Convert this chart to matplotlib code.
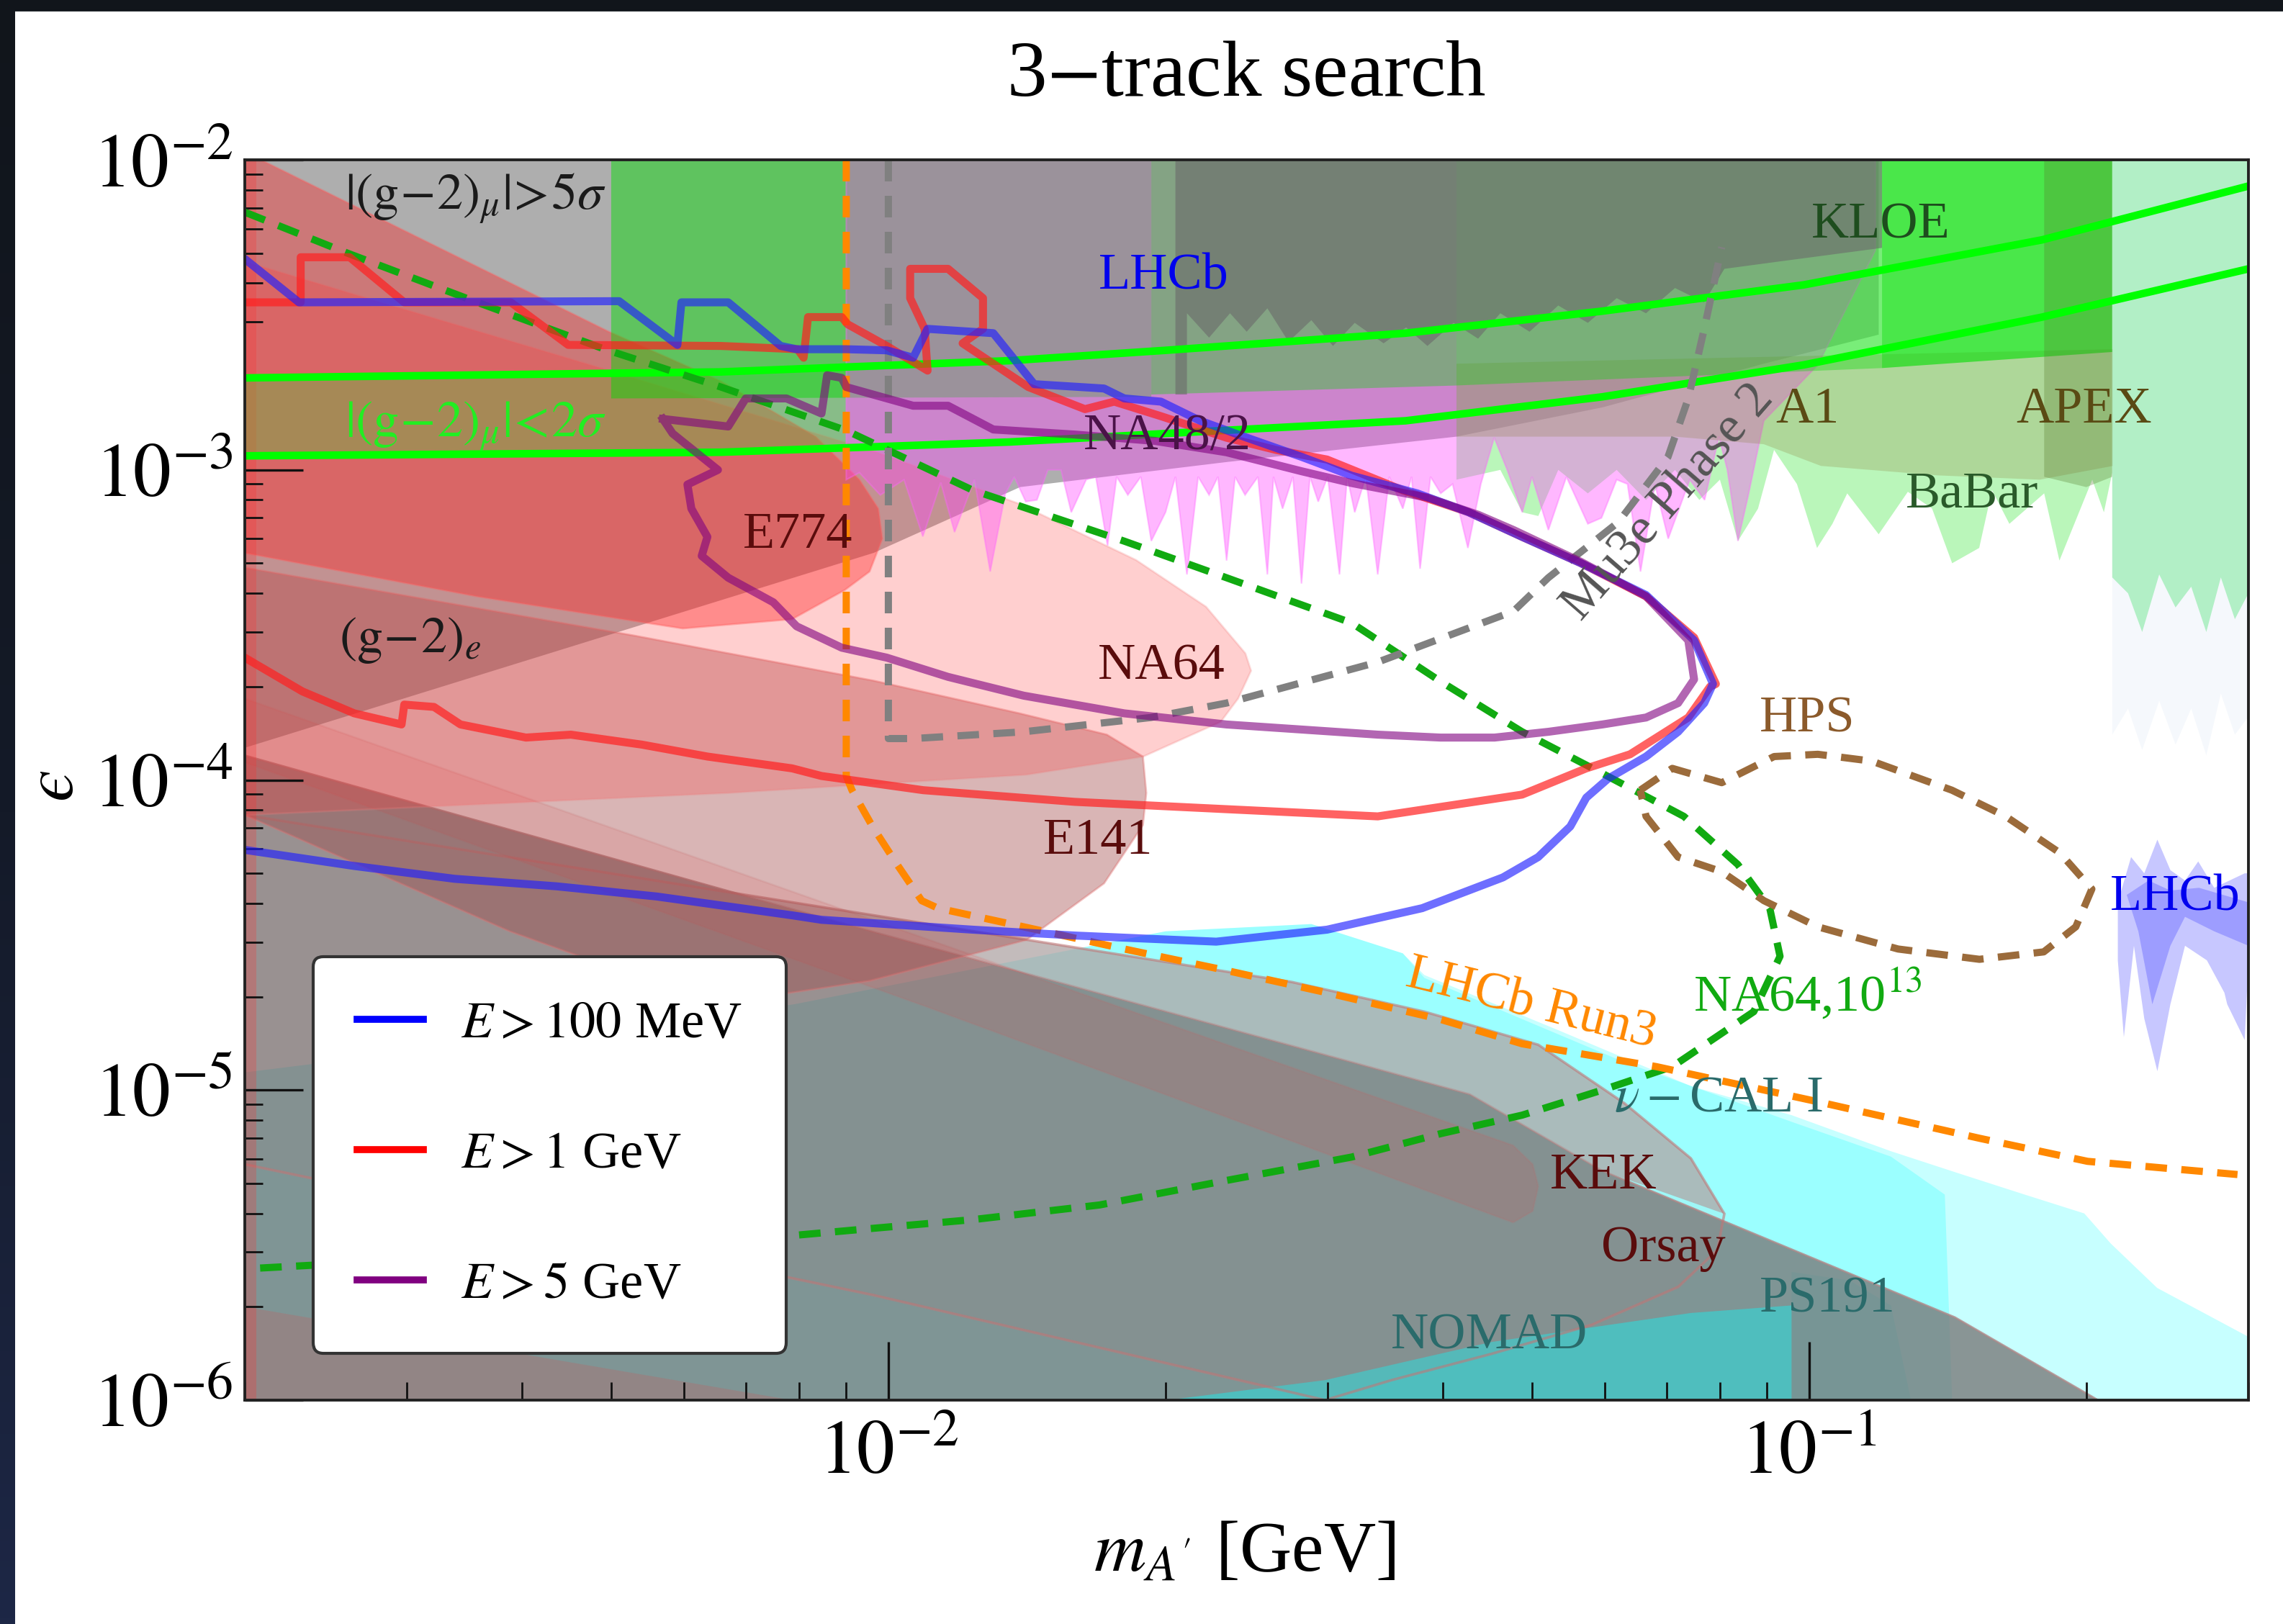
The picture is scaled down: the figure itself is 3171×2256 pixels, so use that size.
import numpy as np
import matplotlib
matplotlib.use("Agg")
import matplotlib.pyplot as plt
from matplotlib.lines import Line2D
from matplotlib.patches import Rectangle
from matplotlib.colors import LinearSegmentedColormap
from matplotlib.ticker import LogLocator, FuncFormatter, NullFormatter

plt.rcParams['font.family'] = ['Liberation Serif', 'DejaVu Serif']
plt.rcParams['mathtext.fontset'] = 'stix'

# ---------------- axis range ----------------
M_MIN, M_MAX = 2e-3, 0.3
EPS_BOT, EPS_TOP = 1e-6, 1e-2

# ---------------- 3-track reach contours ----------------
blue_m = [0.002, 0.00229, 0.0051, 0.0059, 0.00596, 0.0067, 0.00764, 0.00795, 0.0090, 0.00996, 0.01064, 0.01103,
          0.0130, 0.0144, 0.01715, 0.01804, 0.01977, 0.02181, 0.02451, 0.02814, 0.03185, 0.03753, 0.04264, 0.04879,
          0.05645, 0.06651, 0.0750, 0.07863, 0.07693, 0.07206, 0.06651, 0.06049, 0.05728, 0.05503, 0.05078, 0.0465,
          0.0380, 0.02995, 0.0227, 0.01594, 0.01235, 0.00846, 0.00786, 0.0056, 0.00436, 0.00338, 0.00263, 0.002]
blue_eps = [4.79e-3, 3.47e-3, 3.50e-3, 2.53e-3, 3.47e-3, 3.47e-3, 2.51e-3, 2.45e-3, 2.45e-3, 2.43e-3, 2.30e-3, 2.85e-3,
            2.76e-3, 1.89e-3, 1.83e-3, 1.70e-3, 1.66e-3, 1.44e-3, 1.27e-3, 1.10e-3, 9.58e-4, 8.40e-4, 7.31e-4, 6.08e-4,
            5.01e-4, 3.95e-4, 2.82e-4, 2.04e-4, 1.77e-4, 1.43e-4, 1.19e-4, 1.01e-4, 8.77e-5, 7.08e-5, 5.64e-5, 4.85e-5,
            3.86e-5, 3.29e-5, 3.01e-5, 3.15e-5, 3.29e-5, 3.54e-5, 3.66e-5, 4.21e-5, 4.54e-5, 4.80e-5, 5.28e-5, 5.95e-5]

red_m = [0.002, 0.0023, 0.0023, 0.0026, 0.00298, 0.00389, 0.00449, 0.00658, 0.00797, 0.00809, 0.00818, 0.0089,
         0.00903, 0.00996, 0.01103, 0.01095, 0.01056, 0.01056, 0.01161, 0.01267, 0.01267, 0.01204, 0.01419, 0.01635,
         0.01759, 0.01977, 0.02329, 0.02636, 0.02995, 0.03619, 0.04264, 0.04879, 0.05645, 0.06651, 0.0750, 0.0792,
         0.07806, 0.07392, 0.0639, 0.05728, 0.04879, 0.034, 0.02329, 0.01594, 0.01091, 0.00846, 0.00786, 0.00636,
         0.0054, 0.00452, 0.00404, 0.00343, 0.00321, 0.00298, 0.00296, 0.00263, 0.00231, 0.002]
red_eps = [3.47e-3, 3.47e-3, 4.85e-3, 4.85e-3, 3.47e-3, 3.47e-3, 2.53e-3, 2.51e-3, 2.45e-3, 2.30e-3, 3.11e-3, 3.11e-3,
           2.95e-3, 2.51e-3, 2.09e-3, 2.85e-3, 3.58e-3, 4.45e-3, 4.45e-3, 3.58e-3, 2.85e-3, 2.56e-3, 1.85e-3, 1.57e-3,
           1.66e-3, 1.49e-3, 1.27e-3, 1.16e-3, 1.08e-3, 8.60e-4, 7.31e-4, 6.08e-4, 5.01e-4, 3.91e-4, 2.88e-4, 2.04e-4,
           2.00e-4, 1.59e-4, 1.21e-4, 1.09e-4, 8.97e-5, 7.63e-5, 8.05e-5, 8.50e-5, 9.27e-5, 1.03e-4, 1.09e-4, 1.19e-4,
           1.30e-4, 1.40e-4, 1.37e-4, 1.51e-4, 1.72e-4, 1.75e-4, 1.51e-4, 1.64e-4, 1.93e-4, 2.48e-4]

purple_m = [0.00569, 0.0067, 0.0070, 0.00775, 0.00846, 0.00858, 0.0089, 0.0090, 0.01064, 0.01161, 0.0130, 0.01594,
            0.01948, 0.02329, 0.02814, 0.03185, 0.03849, 0.04374, 0.04774, 0.05645, 0.06651, 0.07392, 0.0750, 0.07206,
            0.06651, 0.05962, 0.05209, 0.04553, 0.03977, 0.03401, 0.02329, 0.01804, 0.01403, 0.01161, 0.00996, 0.0089,
            0.00795, 0.0075, 0.0067, 0.00627, 0.00636, 0.00611, 0.00605, 0.00653, 0.00583, 0.00569]
purple_eps = [1.46e-3, 1.38e-3, 1.70e-3, 1.70e-3, 1.52e-3, 2.02e-3, 1.98e-3, 1.85e-3, 1.61e-3, 1.61e-3, 1.35e-3, 1.30e-3,
              1.24e-3, 1.14e-3, 9.89e-4, 9.07e-4, 8.14e-4, 7.16e-4, 6.40e-4, 5.06e-4, 3.91e-4, 2.82e-4, 2.11e-4, 1.77e-4,
              1.59e-4, 1.51e-4, 1.43e-4, 1.37e-4, 1.37e-4, 1.40e-4, 1.51e-4, 1.64e-4, 1.87e-4, 2.15e-4, 2.48e-4, 2.67e-4,
              3.13e-4, 3.74e-4, 4.49e-4, 5.28e-4, 6.08e-4, 7.5e-4, 8.97e-4, 1.0e-3, 1.31e-3, 1.46e-3]

# ---------------- projections (dashed) ----------------
na64f_m = [0.002, 0.00259, 0.00355, 0.00492, 0.00658, 0.009, 0.01235, 0.01804, 0.02329, 0.03185, 0.03977, 0.04879,
           0.05962, 0.07311, 0.08366, 0.09062, 0.09298, 0.08708, 0.07102, 0.05962, 0.04879, 0.03977, 0.03185, 0.02329,
           0.01696, 0.01235, 0.00961, 0.00783, 0.00388, 0.002]
na64f_eps = [6.78e-3, 4.99e-3, 3.50e-3, 2.45e-3, 1.85e-3, 1.34e-3, 8.60e-4, 5.89e-4, 4.49e-4, 3.21e-4, 2.08e-4, 1.43e-4,
             1.05e-4, 7.63e-5, 5.34e-5, 3.86e-5, 2.70e-5, 1.79e-5, 1.19e-5, 1.0e-5, 8.3e-6, 7.23e-6, 6.08e-6, 5.11e-6,
             4.26e-6, 3.82e-6, 3.58e-6, 3.39e-6, 2.95e-6, 2.65e-6]

run3_m = [0.009, 0.009, 0.00913, 0.00961, 0.01022, 0.01087, 0.01132, 0.01403, 0.01804, 0.02329, 0.02995, 0.03977,
          0.04879, 0.06823, 0.1022, 0.1531, 0.2006, 0.2919]
run3_eps = [1e-2, 1.03e-4, 9.27e-5, 7.08e-5, 5.34e-5, 4.08e-5, 3.86e-5, 3.36e-5, 2.85e-5, 2.43e-5, 2.06e-5, 1.69e-5,
            1.41e-5, 1.19e-5, 9.17e-6, 6.99e-6, 5.89e-6, 5.34e-6]

mu3e_m = [0.01, 0.01, 0.01064, 0.01403, 0.01927, 0.02329, 0.03401, 0.04774, 0.05209, 0.06205, 0.07025, 0.07392,
          0.07693, 0.08037]
mu3e_eps = [1e-2, 1.36e-4, 1.36e-4, 1.43e-4, 1.59e-4, 1.77e-4, 2.40e-4, 3.50e-4, 4.49e-4, 6.78e-4, 1.10e-3, 1.70e-3,
            2.85e-3, 5.23e-3]

hps_m = [0.06555, 0.07102, 0.08037, 0.09162, 0.1022, 0.117, 0.1429, 0.1635, 0.1872, 0.2028, 0.1948, 0.1798, 0.1531,
         0.1249, 0.1022, 0.08931, 0.08037, 0.07206, 0.06651, 0.06555]
hps_eps = [9.27e-5, 1.09e-4, 9.8e-5, 1.19e-4, 1.21e-4, 1.15e-4, 9.27e-5, 7.63e-5, 5.82e-5, 4.45e-5, 3.36e-5, 2.79e-5,
           2.64e-5, 2.85e-5, 3.36e-5, 4.08e-5, 5.06e-5, 5.64e-5, 7.63e-5, 9.27e-5]

# (g-2)_mu 2 sigma band
g2_m = [0.002, 0.00658, 0.01353, 0.02, 0.03645, 0.0596, 0.0986, 0.1791, 0.3]
g2up_eps = [1.98e-3, 2.07e-3, 2.25e-3, 2.43e-3, 2.76e-3, 3.25e-3, 3.95e-3, 5.52e-3, 8.23e-3]
g2lo_eps = [1.11e-3, 1.14e-3, 1.23e-3, 1.31e-3, 1.44e-3, 1.72e-3, 2.18e-3, 3.11e-3, 4.45e-3]
g2band_m = [0.002, 0.00658, 0.009]
g2band_up = [1.98e-3, 2.07e-3, 2.14e-3]
g2band_lo = [1.11e-3, 1.14e-3, 1.17e-3]

# ---------------- existing constraints (filled) ----------------
gtop_m = [0.002, 0.00964, 0.0139, 0.0233, 0.0414, 0.0596, 0.0893, 0.119]
gtop_eps = [1.27e-4, 5.4e-4, 8.8e-4, 1.06e-3, 1.28e-3, 1.59e-3, 2.2e-3, 2.73e-3]

e137_m = [0.002, 0.0096, 0.0428, 0.0596, 0.144, 0.206]
e137_eps = [1.2e-4, 3.25e-5, 9.7e-6, 5.5e-6, 1.85e-6, 1.0e-6]

cyan_light_m = [0.002, 0.0079, 0.02, 0.0288, 0.0362, 0.0382, 0.0534, 0.0744, 0.0957, 0.1227, 0.145, 0.1715, 0.199,
                0.2126, 0.2388, 0.3, 0.3, 0.002]
cyan_light_eps = [1.14e-5, 1.89e-5, 3.25e-5, 3.43e-5, 2.76e-5, 2.35e-5, 1.56e-5, 1.03e-5, 8.3e-6, 6.35e-6, 5.4e-6,
                  4.6e-6, 4.0e-6, 3.2e-6, 2.3e-6, 1.6e-6, 1e-6, 1e-6]
nucal_m = [0.002, 0.0079, 0.02, 0.0288, 0.0362, 0.0382, 0.063, 0.0957, 0.1227, 0.1404, 0.143, 0.002]
nucal_eps = [1.14e-5, 1.89e-5, 3.25e-5, 3.43e-5, 2.76e-5, 2.3e-5, 1.23e-5, 7.9e-6, 6.1e-6, 4.6e-6, 1e-6, 1e-6]
nomad_m = [0.0201, 0.0298, 0.0452, 0.0744, 0.0957, 0.0957]
nomad_eps = [1e-6, 1.16e-6, 1.54e-6, 1.91e-6, 2.02e-6, 1e-6]
ps191_m = [0.0957, 0.0957, 0.1107, 0.1227, 0.129]
ps191_eps = [1e-6, 2.59e-6, 2.43e-6, 2.02e-6, 1e-6]

e774_m = [0.002, 0.00497, 0.00658, 0.00834, 0.0093, 0.00975, 0.00985, 0.00954, 0.00897, 0.00786, 0.00598, 0.00359, 0.002]
e774_eps = [1.06e-2, 2.79e-3, 1.93e-3, 1.28e-3, 9.3e-4, 7.5e-4, 6.0e-4, 4.7e-4, 4.1e-4, 3.3e-4, 3.08e-4, 3.9e-4, 5.4e-4]
na64_m = [0.002, 0.00497, 0.00964, 0.01383, 0.01858, 0.02213, 0.02442, 0.02477, 0.02398, 0.02296, 0.01892, 0.01413,
          0.0067, 0.002]
na64_eps = [4.69e-3, 2.09e-3, 1.15e-3, 7.8e-4, 5.12e-4, 3.62e-4, 2.56e-4, 2.25e-4, 1.83e-4, 1.54e-4, 1.19e-4, 1.04e-4,
            9.08e-5, 7.71e-5]
e141_m = [0.002, 0.0053, 0.00964, 0.01388, 0.01727, 0.0189, 0.01906, 0.0189, 0.01715, 0.01413, 0.00954, 0.00646,
          0.00388, 0.002]
e141_eps = [4.84e-4, 2.92e-4, 2.09e-4, 1.64e-4, 1.40e-4, 1.19e-4, 9.08e-5, 7.15e-5, 4.64e-5, 3.05e-5, 2.25e-5, 1.89e-5,
            3.25e-5, 7.71e-5]
kek_m = [0.002, 0.01804, 0.0477, 0.0501, 0.0508, 0.0501, 0.0477, 0.01115, 0.002]
kek_eps = [1.83e-4, 1.83e-5, 6.63e-6, 5.76e-6, 4.9e-6, 4.07e-6, 3.74e-6, 1.83e-5, 1.14e-4]
orsay_m = [0.002, 0.02744, 0.0382, 0.0508, 0.063, 0.0744, 0.0809, 0.0795, 0.0721, 0.0581, 0.0452, 0.0352, 0.0298,
           0.00964, 0.002]
orsay_eps = [7.71e-5, 2.23e-5, 1.79e-5, 1.40e-5, 9.07e-6, 6.02e-6, 3.99e-6, 3.05e-6, 2.32e-6, 1.75e-6, 1.41e-6,
             1.16e-6, 1.0e-6, 2.18e-6, 5.76e-6]
# part of the Orsay region lying above the large grey region
orsay_up_m = [0.00687, 0.02744, 0.0382, 0.0508, 0.063, 0.0744, 0.0809, 0.0596, 0.0428, 0.0096]
orsay_up_eps = [4.3e-5, 2.23e-5, 1.79e-5, 1.40e-5, 9.07e-6, 6.02e-6, 3.99e-6, 5.5e-6, 9.7e-6, 3.25e-5]
redlow_m = [0.002, 0.00786, 0.002]
redlow_eps = [2.0e-6, 1e-6, 1e-6]
strip_m = [0.002, 0.00206, 0.00206, 0.002]
strip_eps = [1e-6, 1e-6, 1e-2, 1e-2]

block_m = [0.005, 0.0193, 0.0193, 0.005]
block_eps = [1e-2, 1e-2, 1.72e-3, 1.7e-3]
kloeL_m = [0.0193, 0.0193, 0.0411, 0.12, 0.12]
kloeL_eps = [1e-2, 1.75e-3, 1.87e-3, 2.13e-3, 1e-2]
kloeR_m = [0.12, 0.12, 0.2134, 0.2134]
kloeR_eps = [1e-2, 2.13e-3, 2.40e-3, 1e-2]
lhcb_top_m = [0.0205, 0.0205, 0.0211, 0.0211, 0.0223, 0.0235, 0.0245, 0.0258, 0.0272, 0.0288, 0.0304, 0.0321, 0.0345,
              0.0365, 0.0385, 0.0411, 0.0437, 0.0462, 0.0497, 0.0534, 0.0575, 0.0618, 0.0665, 0.0715, 0.0769, 0.0809,
              0.0923, 0.12, 0.12]
lhcb_top_eps = [1e-2, 1.75e-3, 1.75e-3, 3.2e-3, 2.67e-3, 3.2e-3, 2.79e-3, 3.32e-3, 2.59e-3, 3.04e-3, 2.51e-3, 2.98e-3,
                2.56e-3, 2.88e-3, 2.51e-3, 2.98e-3, 2.65e-3, 3.2e-3, 2.79e-3, 3.39e-3, 2.98e-3, 3.58e-3, 3.2e-3,
                3.86e-3, 3.47e-3, 4.45e-3, 4.69e-3, 5.2e-3, 1e-2]
na48_m = [0.009, 0.118, 0.118, 0.1022, 0.0893, 0.0859, 0.0837, 0.0815, 0.0798, 0.0770, 0.0742, 0.0703, 0.0680, 0.0656,
          0.0635, 0.0618, 0.0595, 0.0575, 0.0545, 0.0521, 0.0500, 0.0488, 0.0470, 0.0455, 0.0440, 0.0426, 0.0410,
          0.0398, 0.0388, 0.0378, 0.0370, 0.0362, 0.0350, 0.0340, 0.0330, 0.0321, 0.0315, 0.0309, 0.0300, 0.0293,
          0.0287, 0.0281, 0.0275, 0.0268, 0.0262, 0.0258, 0.0252, 0.0244, 0.0238, 0.0233, 0.0228, 0.0223, 0.0217,
          0.0211, 0.0205, 0.0200, 0.0193, 0.0188, 0.0182, 0.0177, 0.0173, 0.0168, 0.0164, 0.0158, 0.0154, 0.0149,
          0.0145, 0.0141, 0.0137, 0.0134, 0.0129, 0.0124, 0.0118, 0.0114, 0.0109, 0.0104, 0.0098, 0.0093, 0.0090]
na48_eps = [1e-2, 1e-2, 5.1e-3, 2.18e-3, 1.44e-3, 8.3e-4, 5.9e-4, 1.0e-3, 1.28e-3, 8.0e-4, 9.3e-4, 6.0e-4, 9.0e-4,
            4.7e-4, 9.0e-4, 9.3e-4, 7.0e-4, 6.7e-4, 9.5e-4, 6.4e-4, 9.5e-4, 7.3e-4, 1.0e-3, 1.27e-3, 9.0e-4, 5.6e-4,
            9.0e-4, 8.4e-4, 9.5e-4, 4.8e-4, 9.5e-4, 7.5e-4, 9.5e-4, 4.6e-4, 9.5e-4, 7.3e-4, 9.5e-4, 4.6e-4, 9.5e-4,
            7.9e-4, 9.5e-4, 4.3e-4, 9.5e-4, 7.5e-4, 9.5e-4, 4.6e-4, 9.5e-4, 8.3e-4, 9.5e-4, 5.1e-4, 9.5e-4, 8.3e-4,
            9.5e-4, 4.6e-4, 9.5e-4, 7.3e-4, 5.9e-4, 9.5e-4, 8.3e-4, 9.5e-4, 5.7e-4, 9.5e-4, 9.3e-4, 7.3e-4, 1.0e-3,
            1.0e-3, 8.0e-4, 7.9e-4, 9.5e-4, 8.4e-4, 4.7e-4, 9.3e-4, 6.3e-4, 9.1e-4, 6.1e-4, 9.3e-4, 8.3e-4, 9.8e-4,
            9.3e-4]
babar_m = [0.0414, 0.2134, 0.2134, 0.2090, 0.2030, 0.1870, 0.1800, 0.1650, 0.1580, 0.1530, 0.1430, 0.1360, 0.1280,
           0.1190, 0.1100, 0.1060, 0.1020, 0.0970, 0.0916, 0.0880, 0.0837, 0.0800, 0.0760, 0.0715, 0.0665, 0.0618,
           0.0575, 0.0534, 0.0508, 0.0488, 0.0462, 0.0414]
babar_eps = [1e-2, 1e-2, 9.8e-4, 7.3e-4, 9.3e-4, 5.1e-4, 8.4e-4, 6.7e-4, 8.6e-4, 5.6e-4, 5.0e-4, 7.5e-4, 8.5e-4, 6.2e-4,
             8.4e-4, 6.7e-4, 5.6e-4, 9.0e-4, 1.16e-3, 7.5e-4, 5.9e-4, 9.3e-4, 8.0e-4, 1.0e-3, 8.0e-4, 1.0e-3, 8.4e-4,
             1.0e-3, 7.1e-4, 7.3e-4, 1.0e-3, 9.3e-4]
a1_m = [0.0414, 0.2138, 0.2138, 0.178, 0.138, 0.103, 0.0893, 0.0715, 0.0596, 0.0414]
a1_eps = [2.2e-3, 2.45e-3, 1.03e-3, 9.3e-4, 9.6e-4, 1.03e-3, 1.21e-3, 1.28e-3, 1.28e-3, 1.28e-3]
apex_m = [0.18, 0.2134, 0.2134, 0.2, 0.18]
apex_eps = [1e-2, 1e-2, 9.5e-4, 8.8e-4, 9.5e-4]
rpale_m = [0.2134, 0.3, 0.3, 0.29, 0.28, 0.27, 0.26, 0.25, 0.24, 0.23, 0.222, 0.2134]
rpale_eps = [1e-2, 1e-2, 1.6e-4, 1.4e-4, 1.9e-4, 1.2e-4, 1.7e-4, 1.3e-4, 1.8e-4, 1.25e-4, 1.7e-4, 1.4e-4]
rgreen_m = [0.2134, 0.3, 0.3, 0.29, 0.28, 0.27, 0.26, 0.25, 0.24, 0.23, 0.222, 0.2134]
rgreen_eps = [1e-2, 1e-2, 4.0e-4, 3.3e-4, 4.5e-4, 3.0e-4, 4.2e-4, 3.6e-4, 4.6e-4, 3.0e-4, 4.0e-4, 4.5e-4]
lhcbR1_m = [0.2164, 0.2237, 0.2312, 0.2389, 0.2468, 0.256, 0.2646, 0.2754, 0.2972, 0.3, 0.3, 0.2972, 0.2845, 0.2825,
            0.2704, 0.256, 0.2468, 0.2389, 0.2312, 0.2253, 0.2197, 0.2164]
lhcbR1_eps = [4.03e-5, 5.64e-5, 5.0e-5, 6.42e-5, 5.12e-5, 4.74e-5, 5.46e-5, 4.49e-5, 5.0e-5, 5.0e-5, 2.62e-5, 1.45e-5,
              1.89e-5, 2.06e-5, 2.62e-5, 2.92e-5, 1.89e-5, 1.15e-5, 1.70e-5, 2.92e-5, 1.48e-5, 2.62e-5]
lhcbR2_m = [0.2213, 0.2337, 0.2468, 0.2651, 0.3, 0.3, 0.2754, 0.256, 0.2468, 0.2359, 0.2278]
lhcbR2_eps = [4.26e-5, 4.74e-5, 4.40e-5, 4.49e-5, 4.03e-5, 2.92e-5, 3.25e-5, 3.62e-5, 2.92e-5, 1.89e-5, 3.25e-5]

# ---------------- figure ----------------
W, H, DPI = 3171, 2256, 200
fig = plt.figure(figsize=(W / DPI, H / DPI), dpi=DPI, facecolor='white')

# dark slide border (top and left)
bg = fig.add_axes([0, 0, 1, 1], zorder=-10)
bg.set_axis_off()
cmap_b = LinearSegmentedColormap.from_list('b', ['#11151b', '#141a28', '#1d2746'])
bg.imshow(np.linspace(0, 1, 256)[:, None], extent=(0, 21, H, 0), cmap=cmap_b, aspect='auto')
bg.add_patch(Rectangle((0, 0), W, 14, color='#11151b'))
bg.set_xlim(0, W)
bg.set_ylim(H, 0)

ax = fig.add_axes([340 / W, 1 - 1945 / H, (3123 - 340) / W, (1945 - 222) / H])
ax.set_xscale('log')
ax.set_yscale('log')


def region(m, e, fc, a, ec='none', lw=0.0, z=1):
    ax.fill(m, e, facecolor=fc, alpha=a, edgecolor=ec, linewidth=lw, zorder=z)


# beam dumps (proton)
region(cyan_light_m, cyan_light_eps, '#00ffff', 0.22)
region(nucal_m, nucal_eps, '#00ffff', 0.22)
region(ps191_m, ps191_eps, '#00f0f0', 0.25)
# large grey region
region(e137_m + [e137_m[0]], e137_eps + [EPS_BOT], '#787878', 0.78, ec='#b08888', lw=1.0)
region(orsay_up_m, orsay_up_eps, '#acacac', 0.75)
region(nomad_m, nomad_eps, '#20e8e8', 0.5)
# (g-2) grey region at top
region(gtop_m + [gtop_m[-1], gtop_m[0]], gtop_eps + [EPS_TOP, EPS_TOP], '#8c8c8c', 0.7)
# electron beam dumps (red)
ax.fill(orsay_m, orsay_eps, facecolor='none', edgecolor='#c07878', alpha=0.6, linewidth=1.3, zorder=1)
region(orsay_m, orsay_eps, '#ff4040', 0.04)
region(kek_m, kek_eps, '#ff3030', 0.12, ec='#d06060', lw=1.0)
region(redlow_m, redlow_eps, '#ff3030', 0.15)
region(e141_m, e141_eps, '#a04848', 0.4, ec='#e07070', lw=1.0)
region(na64_m, na64_eps, '#ff4040', 0.25, ec='#f08080', lw=1.0)
region(e774_m, e774_eps, '#ff2020', 0.38, ec='#ff6060', lw=1.0)
region(strip_m, strip_eps, '#ff3030', 0.25)
ax.fill_between(g2band_m, g2band_lo, g2band_up, facecolor='#33dd33', alpha=0.3, linewidth=0, zorder=1)
# colliders / fixed target
region(babar_m, babar_eps, '#77ee77', 0.5)
region(block_m, block_eps, '#00dd00', 0.45)
region(na48_m, na48_eps, '#ff44ff', 0.38, ec='#ff66ff', lw=0.8)
region(a1_m, a1_eps, '#8b7d3a', 0.25)
region(kloeL_m, kloeL_eps, '#00dd00', 0.35)
region(kloeR_m, kloeR_eps, '#00dd00', 0.6)
region(lhcb_top_m, lhcb_top_eps, '#6a6a6a', 0.6)
region(apex_m, apex_eps, '#557a2a', 0.3)
region(rpale_m, rpale_eps, '#e4ecf8', 0.35)
region(rgreen_m, rgreen_eps, '#7ce89a', 0.55)
region(lhcbR1_m, lhcbR1_eps, '#6060ff', 0.35)
region(lhcbR2_m, lhcbR2_eps, '#5050ff', 0.35)

# lines
ax.plot(g2_m, g2up_eps, color='#00ff00', lw=3.8, zorder=3)
ax.plot(g2_m, g2lo_eps, color='#00ff00', lw=3.8, zorder=3)
dash = (0, (3, 2))
ax.plot(na64f_m, na64f_eps, color='#11aa11', lw=3.6, ls=dash, zorder=3)
ax.plot(run3_m, run3_eps, color='#ff8800', lw=3.6, ls=dash, zorder=3)
ax.plot(mu3e_m, mu3e_eps, color='#808080', lw=3.6, ls=dash, zorder=3)
ax.plot(hps_m, hps_eps, color='#9b6b3b', lw=3.6, ls=dash, zorder=3)
ax.plot(red_m, red_eps, color='#ff2020', lw=4.0, alpha=0.7, zorder=4)
ax.plot(blue_m, blue_eps, color='#2020ff', lw=4.0, alpha=0.65, zorder=4)
ax.plot(purple_m, purple_eps, color='#800080', lw=4.0, alpha=0.6, zorder=4)

# region labels
labels = [
    (r'$|(\mathrm{g}\!-\!2)_{\mu}|\!>\!5\sigma$', 0.00257, 7.47e-3, '#1a1a1a', 0, 'left'),
    (r'$|(\mathrm{g}\!-\!2)_{\mu}|\!<\!2\sigma$', 0.00257, 1.38e-3, '#22ee22', 0, 'left'),
    (r'$(\mathrm{g}\!-\!2)_{e}$', 0.00253, 2.82e-4, '#1a1a1a', 0, 'left'),
    ('E774', 0.00798, 6.15e-4, '#5a0c0c', 0, 'center'),
    ('NA64', 0.0198, 2.32e-4, '#5a0c0c', 0, 'center'),
    ('E141', 0.0169, 6.35e-5, '#5a0c0c', 0, 'center'),
    ('LHCb', 0.0199, 4.21e-3, '#0000ee', 0, 'center'),
    ('NA48/2', 0.0201, 1.28e-3, '#4a1248', 0, 'center'),
    ('KLOE', 0.1196, 6.15e-3, '#1e4d1e', 0, 'center'),
    ('A1', 0.0996, 1.56e-3, '#5a4a14', 0, 'center'),
    ('APEX', 0.199, 1.56e-3, '#5a4a14', 0, 'center'),
    ('BaBar', 0.1504, 8.32e-4, '#2a5a2a', 0, 'center'),
    ('Mu3e Phase 2', 0.0703, 7.88e-4, '#555555', 49, 'center'),
    ('HPS', 0.0996, 1.57e-4, '#8b5a2b', 0, 'center'),
    ('LHCb', 0.2496, 4.17e-5, '#0000ee', 0, 'center'),
    (r'NA64,10$^{13}$', 0.0996, 2.04e-5, '#11aa11', 0, 'center'),
    ('LHCb Run3', 0.0499, 1.89e-5, '#ff8800', -14, 'center'),
    (r'$\nu-$CAL I', 0.0798, 9.37e-6, '#2a6b6b', 0, 'center'),
    ('KEK', 0.0598, 5.28e-6, '#5a0c0c', 0, 'center'),
    ('Orsay', 0.0695, 3.08e-6, '#5a0c0c', 0, 'center'),
    ('PS191', 0.1048, 2.11e-6, '#2a6b6b', 0, 'center'),
    ('NOMAD', 0.0449, 1.61e-6, '#2a6b6b', 0, 'center'),
]
for txt, mx, ey, col, rot, ha in labels:
    ax.text(mx, ey, txt, color=col, fontsize=26, rotation=rot, ha=ha, va='center',
            rotation_mode='anchor', zorder=6)

ax.set_xlim(M_MIN, M_MAX)
ax.set_ylim(EPS_BOT, EPS_TOP)

fmt = FuncFormatter(lambda v, p: r'$10^{%d}$' % int(round(np.log10(v))))
ax.xaxis.set_major_locator(LogLocator(base=10, numticks=10))
ax.yaxis.set_major_locator(LogLocator(base=10, numticks=10))
ax.xaxis.set_minor_locator(LogLocator(base=10, subs=np.arange(2, 10), numticks=20))
ax.yaxis.set_minor_locator(LogLocator(base=10, subs=np.arange(2, 10), numticks=20))
ax.xaxis.set_major_formatter(fmt)
ax.yaxis.set_major_formatter(fmt)
ax.xaxis.set_minor_formatter(NullFormatter())
ax.yaxis.set_minor_formatter(NullFormatter())
ax.tick_params(which='major', direction='in', length=29, width=1.2, labelsize=38, color='#111111')
ax.tick_params(which='minor', direction='in', length=9, width=1.0, color='#111111')
ax.tick_params(axis='x', which='major', pad=10)
ax.tick_params(axis='y', which='major', pad=6)
for s in ax.spines.values():
    s.set_linewidth(1.4)
    s.set_color('#222222')
    s.set_zorder(7)

handles = [Line2D([], [], color='#0000ff', lw=3.5),
           Line2D([], [], color='#ff0000', lw=3.5),
           Line2D([], [], color='#800080', lw=3.5)]
leg = ax.legend(handles, [r'$E>100$ MeV', r'$E>1$ GeV', r'$E>5$ GeV'],
                loc='lower left', bbox_to_anchor=(0.034, 0.038), borderaxespad=0, fontsize=26,
                frameon=True, fancybox=True, framealpha=1, edgecolor='#333333',
                labelspacing=1.6, handlelength=1.27, handletextpad=0.73, borderpad=0.85)
leg.get_frame().set_linewidth(1.5)
leg.set_zorder(8)

fig.text(0.546, 0.941, r'3$-$track search', ha='center', va='baseline', fontsize=40)
fig.text(0.545, 0.0324, r"$m_{A'}$ [GeV]", ha='center', va='baseline', fontsize=36)
fig.text(0.0243, 0.516, '$\u03f5$', ha='center', va='center', rotation=90, fontsize=36)

fig.savefig('out.png', dpi=DPI, facecolor='white')
